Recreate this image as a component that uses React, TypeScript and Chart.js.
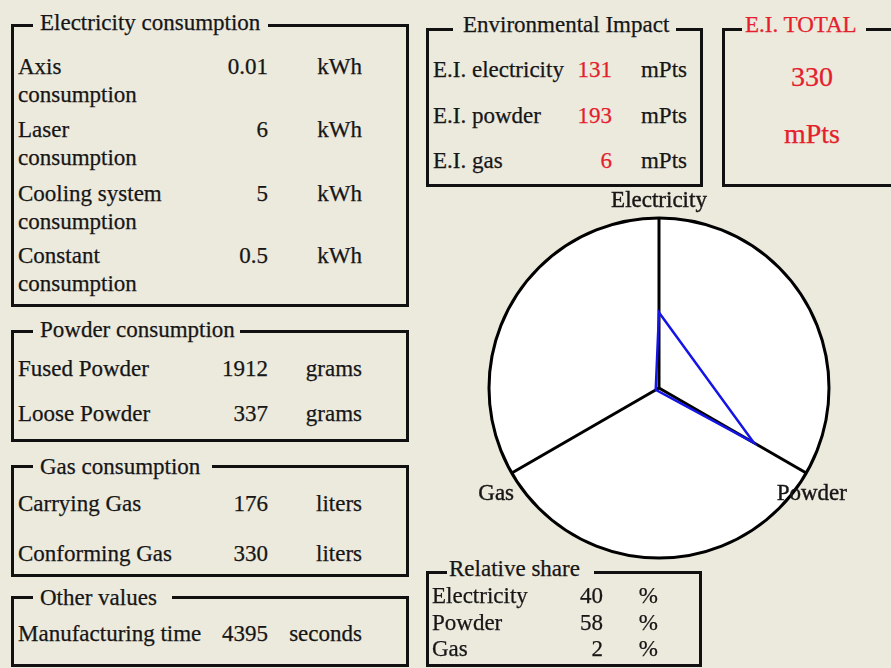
import React, { useEffect, useRef } from "react";
import { Chart, registerables } from "chart.js";

Chart.register(...registerables);

// ---------- data ----------
const elecLabels = ["Axis consumption", "Laser consumption", "Cooling system consumption", "Constant consumption"];
const elecValues = [0.01, 6, 5, 0.5];
const elecUnit = "kWh";

const powderLabels = ["Fused Powder", "Loose Powder"];
const powderValues = [1912, 337];
const powderUnit = "grams";

const gasLabels = ["Carrying Gas", "Conforming Gas"];
const gasValues = [176, 330];
const gasUnit = "liters";

const otherLabels = ["Manufacturing time"];
const otherValues = [4395];
const otherUnit = "seconds";

const eiLabels = ["E.I. electricity", "E.I. powder", "E.I. gas"];
const eiValues = [131, 193, 6];
const eiUnit = "mPts";

const eiTotal = 330;

const shareLabels = ["Electricity", "Powder", "Gas"];
const shareValues = [40, 58, 2];
const shareUnit = "%";

// ---------- styles ----------
const BG = "#ECE9DD";
const INK = "#161616";
const RED = "#e4202c";
const FONT = '"Liberation Serif", "Times New Roman", serif';
const FS = 23;
const LH = 28;
const BASE = 20.76; // title baseline offset inside a 28px line box at 23px
const ROW_SHIFT = 2;

type PanelProps = {
  left: number; top: number; width: number; height: number;
  title: string; titleColor?: string;
  gapStart: number; gapEnd: number; textStart: number; titleBaseline: number;
};

const STROKE: React.CSSProperties = { WebkitTextStroke: "0.25px currentColor" } as any;

function Panel(p: PanelProps) {
  return (
    <>
      <div
        style={{
          position: "absolute", left: p.left, top: p.top, width: p.width, height: p.height,
          border: "3px solid #111111", boxSizing: "border-box",
        }}
      />
      <div
        style={{
          position: "absolute", left: p.gapStart, top: p.titleBaseline - BASE, width: p.gapEnd - p.gapStart,
          height: LH, lineHeight: LH + "px", background: BG, paddingLeft: p.textStart - p.gapStart,
          boxSizing: "border-box", whiteSpace: "nowrap", overflow: "hidden", color: p.titleColor || INK, fontSize: FS,
          ...STROKE,
        }}
      >
        {p.title}
      </div>
    </>
  );
}

type RowsProps = {
  labels: string[]; values: (number | string)[]; unit: string;
  tops: number[]; labelLeft: number; labelWidth: number; valueRight: number; unitRight: number;
  valueColor?: string; lh?: number;
};

function Rows(p: RowsProps) {
  const lh = p.lh || LH;
  return (
    <>
      {p.labels.map((lab, i) => {
        const top = p.tops[i] + ROW_SHIFT;
        return (
          <React.Fragment key={lab}>
            <div style={{ position: "absolute", left: p.labelLeft, top, width: p.labelWidth, lineHeight: lh + "px", fontSize: FS, ...STROKE }}>
              {lab}
            </div>
            <div style={{ position: "absolute", left: p.valueRight - 120, width: 120, top, textAlign: "right", lineHeight: lh + "px", fontSize: FS, color: p.valueColor || INK, ...STROKE }}>
              {String(p.values[i])}
            </div>
            <div style={{ position: "absolute", left: p.unitRight - 120, width: 120, top, textAlign: "right", lineHeight: lh + "px", fontSize: FS, ...STROKE }}>
              {p.unit}
            </div>
          </React.Fragment>
        );
      })}
    </>
  );
}

const axisLabelPlugin = {
  id: "axisLabelPlugin",
  afterDraw(chart: any) {
    const scale = chart.scales.r;
    const ctx = chart.ctx;
    ctx.save();
    ctx.font = `${FS}px ${FONT}`;
    ctx.fillStyle = INK;
    ctx.strokeStyle = INK;
    ctx.lineWidth = 0.4;
    ctx.textAlign = "center";
    ctx.textBaseline = "middle";
    (chart.data.labels as string[]).forEach((lab, i) => {
      const pos = scale.getPointPosition(i, scale.drawingArea + 18);
      const below = pos.y > scale.yCenter + 1;
      const dy = below ? 12 : 1;
      const dx = below && pos.x > scale.xCenter ? -10 : 0;
      ctx.fillText(lab, pos.x + dx, pos.y + dy);
      ctx.strokeText(lab, pos.x + dx, pos.y + dy);
    });
    ctx.restore();
  },
};

function Radar() {
  const ref = useRef<HTMLCanvasElement | null>(null);
  useEffect(() => {
    if (!ref.current) return;
    const chart = new Chart(ref.current, {
      type: "radar",
      data: {
        labels: shareLabels,
        datasets: [
          {
            data: shareValues,
            borderColor: "#1414e6",
            borderWidth: 2.5,
            fill: false,
            pointRadius: 0,
            pointHoverRadius: 0,
          },
        ],
      },
      options: {
        animation: false,
        responsive: false,
        layout: { padding: 30 },
        plugins: { legend: { display: false }, tooltip: { enabled: false } },
        elements: { line: { tension: 0 } },
        scales: {
          r: {
            min: 0,
            max: 90,
            backgroundColor: "#ffffff",
            grid: { circular: true, color: "#000000", lineWidth: 3 },
            angleLines: { color: "#000000", lineWidth: 3 },
            ticks: { display: false, stepSize: 90 },
            pointLabels: { display: false },
          },
        },
      },
      plugins: [axisLabelPlugin],
    } as any);
    return () => chart.destroy();
  }, []);
  return <canvas ref={ref} width={400} height={400} style={{ position: "absolute", left: 459, top: 188, width: 400, height: 400 }} />;
}

export default function App() {
  return (
    <div
      style={{
        position: "absolute", left: 0, top: 0, width: 891, height: 668, overflow: "hidden",
        background: BG, fontFamily: FONT, color: INK, fontSize: FS,
      }}
    >
      {/* Electricity consumption */}
      <Panel left={11} top={24} width={398} height={283} title="Electricity consumption"
        gapStart={33} gapEnd={268} textStart={40} titleBaseline={29.3} />
      <Rows labels={elecLabels} values={elecValues} unit={elecUnit}
        tops={[51, 114.3, 177.6, 240]} labelLeft={18} labelWidth={150} valueRight={268} unitRight={362} />

      {/* Powder consumption */}
      <Panel left={11} top={330} width={398} height={112} title="Powder consumption"
        gapStart={33} gapEnd={240} textStart={40} titleBaseline={336.7} />
      <Rows labels={powderLabels} values={powderValues} unit={powderUnit}
        tops={[352.6, 397.6]} labelLeft={18} labelWidth={200} valueRight={268} unitRight={362} />

      {/* Gas consumption */}
      <Panel left={11} top={465} width={398} height={112} title="Gas consumption"
        gapStart={33} gapEnd={212} textStart={40} titleBaseline={473.3} />
      <Rows labels={gasLabels} values={gasValues} unit={gasUnit}
        tops={[487.6, 538.2]} labelLeft={18} labelWidth={200} valueRight={268} unitRight={362} />

      {/* Other values */}
      <Panel left={11} top={596} width={398} height={71} title="Other values"
        gapStart={33} gapEnd={172} textStart={40} titleBaseline={605} />
      <Rows labels={otherLabels} values={otherValues} unit={otherUnit}
        tops={[618.2]} labelLeft={18} labelWidth={220} valueRight={268} unitRight={362} />

      {/* Environmental Impact */}
      <Panel left={426} top={28} width={277} height={159} title="Environmental Impact"
        gapStart={453} gapEnd={676} textStart={463} titleBaseline={31.7} />
      <Rows labels={eiLabels} values={eiValues} unit={eiUnit}
        tops={[54.2, 99.9, 144.9]} labelLeft={433} labelWidth={170} valueRight={612} unitRight={687} valueColor={RED} />

      {/* E.I. TOTAL */}
      <Panel left={722} top={28} width={190} height={159} title="E.I. TOTAL" titleColor={RED}
        gapStart={742} gapEnd={866} textStart={745} titleBaseline={31.7} />
      <div style={{ position: "absolute", left: 752, width: 120, top: 60.4, textAlign: "center", fontSize: 28, lineHeight: "34px", color: RED, ...STROKE }}>
        {String(eiTotal)}
      </div>
      <div style={{ position: "absolute", left: 752, width: 120, top: 117.4, textAlign: "center", fontSize: 28, lineHeight: "34px", color: RED, ...STROKE }}>
        {eiUnit}
      </div>

      {/* Radar chart */}
      <Radar />

      {/* Relative share */}
      <Panel left={426} top={571} width={276} height={96} title="Relative share"
        gapStart={447} gapEnd={594} textStart={449} titleBaseline={576} />
      <Rows labels={shareLabels} values={shareValues} unit={shareUnit}
        tops={[579.9, 606.6, 633.2]} labelLeft={432} labelWidth={140} valueRight={603} unitRight={658} />
    </div>
  );
}
